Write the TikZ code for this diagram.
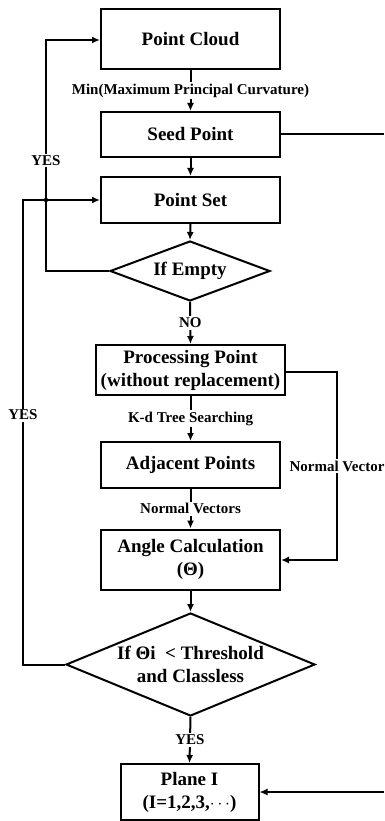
\documentclass[tikz,border=0pt]{standalone}
\usepackage{fontspec}
\setmainfont{Liberation Serif}
\usetikzlibrary{arrows.meta,shapes.geometric}
\begin{document}
\begin{tikzpicture}[x=1pt,y=-1pt,
  line width=2pt,
  box/.style={draw,rectangle,inner sep=0pt,align=center,font=\fontsize{19}{23}\selectfont\bfseries},
  dia/.style={draw,diamond,inner sep=0pt,align=center,font=\fontsize{19}{23}\selectfont\bfseries},
  lab/.style={fill=white,inner sep=1.5pt,font=\fontsize{15}{17}\selectfont\bfseries},
  arr/.style={-{Latex[length=8pt,width=7pt]}}]
\useasboundingbox (0,0) rectangle (384,821);
\node[box,minimum width=179pt,minimum height=60pt] (pc) at (190.5,39) {Point Cloud};
\node[box,minimum width=179pt,minimum height=45pt] (seed) at (190.5,134.5) {Seed Point};
\node[box,minimum width=179pt,minimum height=46pt] (pset) at (190.5,200) {Point Set};
\node[dia,minimum width=160pt,minimum height=60pt,shape aspect=2.67] (e1) at (190,271) {If Empty};
\node[box,minimum width=189pt,minimum height=50pt] (proc) at (190.5,370) {Processing Point\\(without replacement)};
\node[box,minimum width=179pt,minimum height=46pt] (adj) at (190.5,465) {Adjacent Points};
\node[box,minimum width=179pt,minimum height=60pt] (ang) at (190.5,559.5) {Angle Calculation\\(Θ)};
\node[dia,minimum width=249pt,minimum height=103pt,shape aspect=2.42] (d2) at (190.5,664.5) {If Θi\ \ {<} Threshold\\and Classless};
\node[box,minimum width=138pt,minimum height=56pt] (plane) at (189.5,792) {Plane I\\(I=1,2,3,$\cdots$)};
\coordinate (seedR) at (384,134.5);
\coordinate (planeR) at (384,792);
\coordinate (yes1a) at (46,271);
\coordinate (yes1b) at (46,40);
\coordinate (yes2a) at (23,664.5);
\coordinate (yes2b) at (23,200);
\coordinate (jn) at (46,200);
\coordinate (nva) at (337,372);
\coordinate (nvb) at (337,560);

\draw[arr] (pc.south) -- node[lab] {Min(Maximum Principal Curvature)} (seed.north);
\draw[arr] (seed.south) -- (pset.north);
\draw[arr] (pset.south) -- (e1.north);
\draw[arr] (e1.west) -- (yes1a) -- node[lab,pos=0.48] {YES} (yes1b) -- (pc.west |- yes1b);
\draw[arr] (e1.south) -- node[lab] {NO} (proc.north);
\draw[arr] (proc.south) -- node[lab] {K-d Tree Searching} (adj.north);
\draw[arr] (adj.south) -- node[lab] {Normal Vectors} (ang.north);
\draw[arr] (proc.east |- nva) -- (nva) -- node[lab,pos=0.5] {Normal Vector} (nvb) -- (ang.east |- nvb);
\draw[arr] (ang.south) -- (d2.north);
\draw[arr] (d2.west) -- (yes2a) -- node[lab,pos=0.537] {YES} (yes2b) -- (pset.west);
\fill (jn) circle (2.2pt);
\draw[arr] (d2.south) -- node[lab] {YES} (plane.north);
\draw (seed.east) -- (seedR);
\draw[arr] (planeR) -- (plane.east);
\end{tikzpicture}
\end{document}
